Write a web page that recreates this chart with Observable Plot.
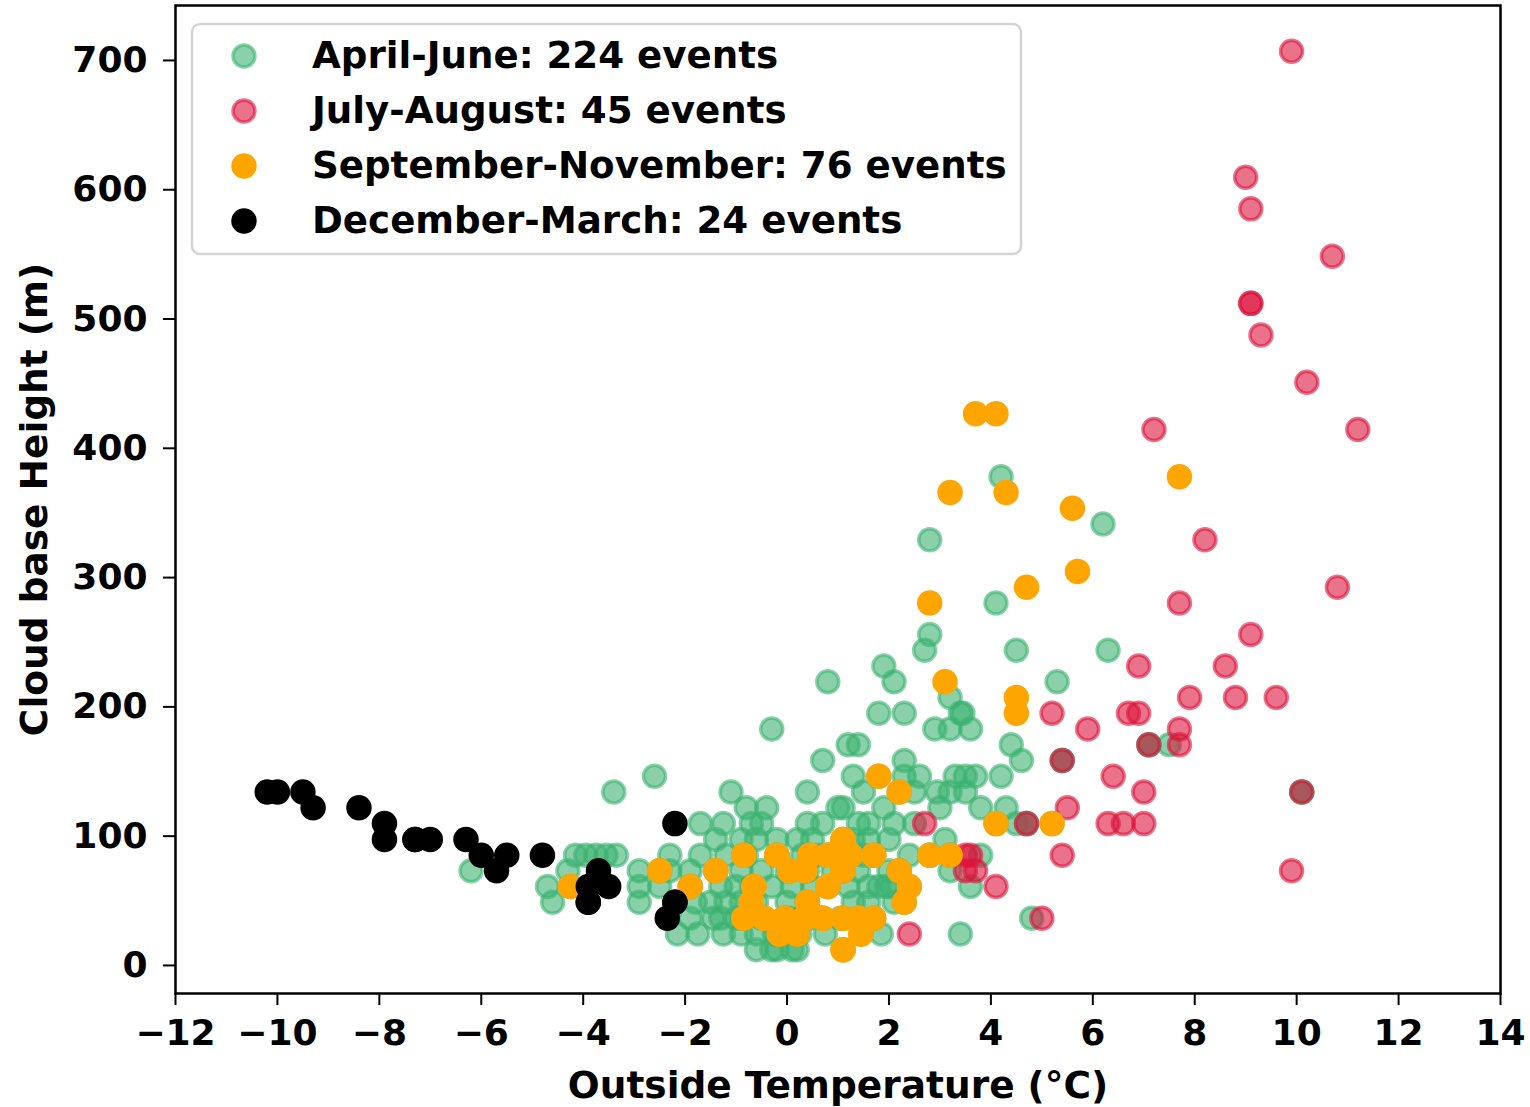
<!DOCTYPE html>
<html>
<head>
<meta charset="utf-8">
<script src="https://cdn.jsdelivr.net/npm/d3@7"></script>
<script src="https://cdn.jsdelivr.net/npm/@observablehq/plot@0.6"></script>
<style>
  html, body { margin: 0; padding: 0; background: white; }
  #chart { width: 1530px; height: 1107px; }
</style>
</head>
<body>
<div id="chart"></div>
<script>
// Cloud base height (m) versus outside temperature (°C) per observed event.
// Each entry is [temperature, cloud base height]; heights are reported in 40 ft steps.
// Repeated entries are events that share the same reading.

const aprJunEvents = [
  [-0.6,12.2],[-0.3,12.2],[-0.2,12.2],[0.1,12.2],[0.2,12.2],
  [-2.15,24.4],[-1.75,24.4],[-1.25,24.4],[-0.9,24.4],[-0.6,24.4],[-0.25,24.4],[0.25,24.4],[0.75,24.4],[1.85,24.4],[3.4,24.4],
  [-1.9,36.6],[-1.45,36.6],[-1.3,36.6],[-1.0,36.6],[-0.5,36.6],[0.05,36.6],[0.45,36.6],[1.05,36.6],[4.8,36.6],
  [-4.6,48.8],[-2.9,48.8],[-1.8,48.8],[-1.5,48.8],[-1.2,48.8],[-0.9,48.8],[-0.6,48.8],[0.0,48.8],[0.4,48.8],[1.3,48.8],[1.6,48.8],[2.1,48.8],
  [-4.7,61.0],[-2.9,61.0],[-2.5,61.0],[-1.9,61.0],[-1.3,61.0],[-1.0,61.0],[-0.7,61.0],[-0.3,61.0],[0.1,61.0],[0.5,61.0],[1.2,61.0],[1.6,61.0],[1.8,61.0],[1.95,61.0],[2.05,61.0],[3.6,61.0],
  [-6.2,73.2],[-4.3,73.2],[-2.9,73.2],[-2.3,73.2],[-1.9,73.2],[-0.9,73.2],[-0.5,73.2],[0.0,73.2],[0.4,73.2],[0.9,73.2],[1.4,73.2],[2.0,73.2],[3.2,73.2],
  [-4.15,85.3],[-3.95,85.3],[-3.75,85.3],[-3.55,85.3],[-3.35,85.3],[-2.3,85.3],[-1.7,85.3],[-1.2,85.3],[-0.8,85.3],[-0.2,85.3],[0.3,85.3],[0.6,85.3],[1.2,85.3],[1.5,85.3],[2.4,85.3],[3.8,85.3],
  [-1.4,97.5],[-0.9,97.5],[-0.6,97.5],[-0.2,97.5],[0.2,97.5],[0.5,97.5],[1.3,97.5],[1.6,97.5],[2.0,97.5],[3.1,97.5],
  [-1.7,109.7],[-1.25,109.7],[-0.7,109.7],[-0.5,109.7],[0.4,109.7],[0.7,109.7],[1.4,109.7],[1.6,109.7],[2.1,109.7],[2.5,109.7],[4.5,109.7],
  [-0.8,121.9],[-0.4,121.9],[1.0,121.9],[1.1,121.9],[1.9,121.9],[3.0,121.9],[3.8,121.9],[4.3,121.9],
  [-3.4,134.1],[-1.1,134.1],[0.4,134.1],[1.5,134.1],[2.5,134.1],[2.95,134.1],[3.2,134.1],[3.5,134.1],
  [-2.6,146.3],[1.3,146.3],[2.3,146.3],[2.6,146.3],[3.3,146.3],[3.5,146.3],[3.7,146.3],[4.2,146.3],
  [0.7,158.5],[2.3,158.5],[4.6,158.5],
  [1.2,170.7],[1.4,170.7],[4.4,170.7],[7.5,170.7],
  [-0.3,182.9],[2.9,182.9],[3.2,182.9],[3.6,182.9],
  [1.8,195.1],[2.3,195.1],[3.4,195.1],[3.45,195.1],
  [3.2,207.3],
  [0.8,219.5],[2.1,219.5],[5.3,219.5],
  [1.9,231.6],
  [2.7,243.8],[4.5,243.8],[6.3,243.8],
  [2.8,256.0],
  [4.1,280.4],
  [2.8,329.2],
  [6.2,341.4],
  [4.2,378.0],
  // shared readings with July–August events
  [5.4,158.5],[5.4,158.5],[7.1,170.7],[7.1,170.7],[10.1,134.1],[10.1,134.1],[4.7,109.7],[4.7,109.7],
  // shared readings with September–November events
  [1.1,97.5],[1.8,146.3],[2.2,134.1],[4.1,109.7],[5.2,109.7],
  [-0.85,85.3],[-0.2,85.3],[0.45,85.3],[0.8,85.3],[1.25,85.3],[1.7,85.3],[2.8,85.3],[3.2,85.3],
  [-0.85,85.3],[-0.2,85.3],[0.45,85.3],[0.8,85.3],[1.25,85.3],[1.7,85.3],[2.8,85.3],[3.2,85.3],
  [-2.5,73.2],[-1.4,73.2],[0.05,73.2],[0.35,73.2],[1.1,73.2],[2.2,73.2],
  [-2.5,73.2],[-1.4,73.2],[0.05,73.2],[0.35,73.2],[1.1,73.2],[2.2,73.2],
  [-4.25,61.0],[-1.9,61.0],[-0.65,61.0],[0.8,61.0],[2.4,61.0],[0.8,61.0],
  [-0.7,48.8],[0.4,48.8],[2.3,48.8],
  [-0.85,36.6],[-0.45,36.6],[-0.05,36.6],[0.35,36.6],[0.7,36.6],[1.1,36.6],[1.4,36.6],[1.7,36.6],
  [-0.85,36.6],[-0.45,36.6],[-0.05,36.6],[0.35,36.6],[0.7,36.6],[1.1,36.6],[1.4,36.6],[1.7,36.6],
  [-0.15,24.4],[0.2,24.4],[1.45,24.4],
  [1.1,12.2]
];

const julAugEvents = [
  [9.9,707.1],[9.0,609.6],[9.1,585.2],[10.7,548.6],[9.1,512.1],[9.1,512.1],[9.3,487.7],[10.2,451.1],
  [7.2,414.5],[11.2,414.5],[8.2,329.2],[10.8,292.6],[7.7,280.4],[9.1,256.0],[6.9,231.6],[8.6,231.6],
  [7.9,207.3],[8.8,207.3],[9.6,207.3],[5.2,195.1],[6.7,195.1],[6.9,195.1],[5.9,182.9],[7.7,182.9],
  [7.7,170.7],[7.1,170.7],[5.4,158.5],[6.4,146.3],[7.0,134.1],[10.1,134.1],[5.5,121.9],
  [6.3,109.7],[6.6,109.7],[7.0,109.7],[4.7,109.7],[2.7,109.7],[5.4,85.3],[3.5,85.3],[3.6,85.3],
  [3.5,73.2],[3.7,73.2],[4.1,61.0],[5.0,36.6],[2.4,24.4],[9.9,73.2]
];

const sepNovEvents = [
  [3.7,426.7],[4.1,426.7],[3.2,365.8],[4.3,365.8],[5.6,353.6],[7.7,378.0],[5.7,304.8],[4.7,292.6],
  [2.8,280.4],[3.1,219.5],[4.5,207.3],[4.5,195.1],[1.8,146.3],[2.2,134.1],[4.1,109.7],[5.2,109.7],
  [1.1,97.5],
  [-0.85,85.3],[-0.2,85.3],[0.45,85.3],[0.8,85.3],[1.25,85.3],[1.7,85.3],[2.8,85.3],[3.2,85.3],
  [-2.5,73.2],[-1.4,73.2],[0.05,73.2],[0.35,73.2],[1.1,73.2],[2.2,73.2],
  [-4.25,61.0],[-1.9,61.0],[-0.65,61.0],[0.8,61.0],[2.4,61.0],
  [-0.7,48.8],[0.4,48.8],[2.3,48.8],
  [-0.85,36.6],[-0.45,36.6],[-0.05,36.6],[0.35,36.6],[0.7,36.6],[1.1,36.6],[1.4,36.6],[1.7,36.6],
  [-0.15,24.4],[0.2,24.4],[1.45,24.4],
  [1.1,12.2],
  // repeated readings
  [-0.85,85.3],[0.45,85.3],[1.25,85.3],[1.7,85.3],[0.05,73.2],[0.35,73.2],[1.1,73.2],
  [-0.65,61.0],[0.8,61.0],[-0.7,48.8],[0.4,48.8],[-0.45,36.6],[-0.05,36.6],[0.35,36.6],[0.7,36.6],
  [1.1,36.6],[1.4,36.6],[-0.15,24.4],[0.2,24.4],[1.45,24.4],[1.1,12.2],[1.1,97.5],[-0.2,85.3],
  [0.8,85.3],[-1.4,73.2]
];

const decMarEvents = [
  [-10.2,134.1],[-10.0,134.1],[-9.5,134.1],[-9.3,121.9],[-8.4,121.9],[-7.9,109.7],[-7.9,97.5],
  [-7.3,97.5],[-7.0,97.5],[-6.3,97.5],[-6.0,85.3],[-5.5,85.3],[-5.7,73.2],[-4.8,85.3],
  [-3.7,73.2],[-3.5,61.0],[-3.9,61.0],[-3.9,48.8],[-2.2,109.7],[-2.2,48.8],[-2.35,36.6],
  [-7.3,97.5],[-3.9,48.8],[-2.2,48.8]
];

const xTicks = [-12, -10, -8, -6, -4, -2, 0, 2, 4, 6, 8, 10, 12, 14];
const yTicks = [0, 100, 200, 300, 400, 500, 600, 700];

const series = [
  {label: "April-June", data: aprJunEvents, color: "#3CB371", opacity: 0.6},
  {label: "July-August", data: julAugEvents, color: "#DC143C", opacity: 0.6},
  {label: "September-November", data: sepNovEvents, color: "#FFA500", opacity: 1},
  {label: "December-March", data: decMarEvents, color: "#000000", opacity: 1}
];

const R = 11, SW = 3.5;
const dotStyle = (s) => ({
  x: d => d[0], y: d => d[1], r: R,
  fill: s.color, fillOpacity: s.opacity,
  stroke: s.color, strokeOpacity: s.opacity, strokeWidth: SW
});

const fmt = d => d3.format("d")(d);

const chart = Plot.plot({
  width: 1530,
  height: 1107,
  marginLeft: 175,
  marginRight: 30,
  marginTop: 5,
  marginBottom: 114,
  style: {fontFamily: "'DejaVu Sans', sans-serif", fontWeight: "bold", fontSize: "36px", background: "white", color: "black"},
  x: {domain: [-12, 14], axis: null},
  y: {domain: [-21.7, 742.5], axis: null},
  marks: [
    ...series.map(s => Plot.dot(s.data, dotStyle(s))),
    Plot.axisX({ticks: xTicks, tickSize: 12, tickPadding: 14, strokeWidth: 2, tickFormat: fmt, label: null}),
    Plot.axisY({ticks: yTicks, tickSize: 12, tickPadding: 16, strokeWidth: 2, tickFormat: fmt, label: null}),
    Plot.axisX({ticks: [], tickSize: 0, fontSize: 37.5,
      label: "Outside Temperature (°C)", labelAnchor: "center", labelArrow: "none", labelOffset: 104}),
    Plot.axisY({ticks: [], tickSize: 0, fontSize: 37.5,
      label: "Cloud base Height (m)", labelAnchor: "center", labelArrow: "none", labelOffset: 155}),
    Plot.frame({stroke: "black", strokeWidth: 2.5})
  ]
});

// Legend box in the upper-left corner of the plotting area.
const svg = d3.select(chart);
const lg = svg.append("g").attr("transform", "translate(192,24)").attr("text-anchor", "start");
lg.append("rect")
  .attr("width", 829).attr("height", 230).attr("rx", 8)
  .attr("fill", "white").attr("fill-opacity", 0.8)
  .attr("stroke", "#d4d4d4").attr("stroke-width", 2.5);
series.forEach((s, i) => {
  const row = lg.append("g").attr("transform", `translate(0,${31 + i * 55})`);
  row.append("circle").attr("cx", 52).attr("cy", 1).attr("r", R)
    .attr("fill", s.color).attr("fill-opacity", s.opacity)
    .attr("stroke", s.color).attr("stroke-opacity", s.opacity).attr("stroke-width", SW);
  row.append("text").attr("x", 120).attr("y", 0).attr("dy", "0.35em")
    .attr("text-anchor", "start").attr("fill", "black").attr("font-size", 37.2)
    .text(`${s.label}: ${s.data.length} events`);
});

document.getElementById("chart").appendChild(chart);
</script>
</body>
</html>
